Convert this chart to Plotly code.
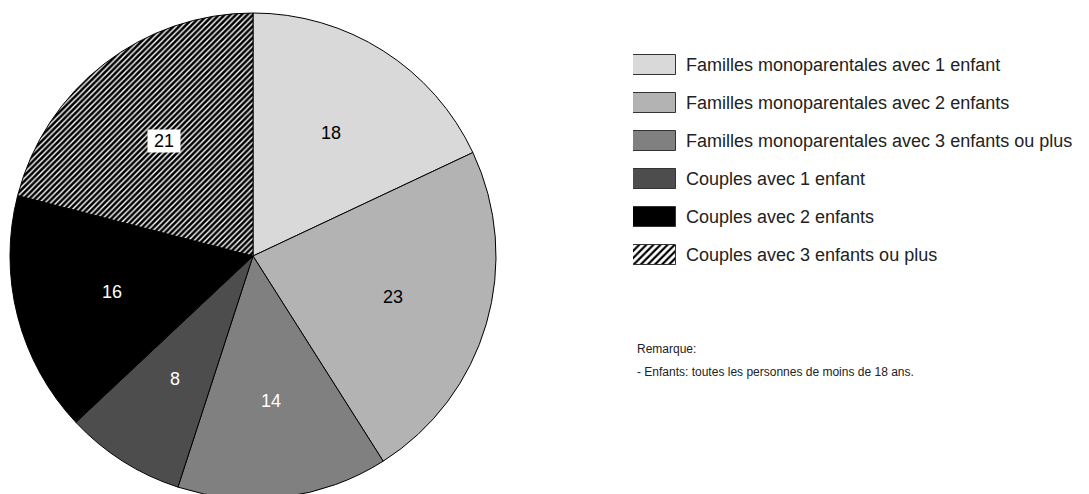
import math
import plotly.graph_objects as go

# ---- data ----
categories = [
    "Familles monoparentales avec 1 enfant",
    "Familles monoparentales avec 2 enfants",
    "Familles monoparentales avec 3 enfants ou plus",
    "Couples avec 1 enfant",
    "Couples avec 2 enfants",
    "Couples avec 3 enfants ou plus",
]
values = [18, 23, 14, 8, 16, 21]
remark_lines = ["Remarque:", "- Enfants: toutes les personnes de moins de 18 ans."]

# ---- styles ----
colors = ["#d9d9d9", "#b3b3b3", "#808080", "#4d4d4d", "#000000", "#000000"]
patterns = ["", "", "", "", "", "/"]
text_colors = ["black", "black", "white", "white", "white", "black"]
boxed = [False, False, False, False, False, True]

W, H = 1089, 494
OFF = 8  # page body margin
FONT = "Liberation Sans, Arial, Helvetica, sans-serif"


def px_x(x):
    return (x - OFF) / W


def px_y(y):
    return 1 - (y - OFF) / H


# pie geometry (screen pixels)
cx_s, cy_s, r_s = 253, 256, 243
pie_dom_x = [px_x(cx_s - r_s), px_x(cx_s + r_s)]
pie_dom_y = [max(0, px_y(cy_s + r_s)), px_y(cy_s - r_s)]

fig = go.Figure()
fig.add_trace(go.Pie(
    labels=categories, values=values, sort=False, direction="clockwise",
    rotation=0,
    domain=dict(x=pie_dom_x, y=pie_dom_y),
    marker=dict(colors=colors, line=dict(color="black", width=1),
                pattern=dict(shape=patterns, fgcolor="white", bgcolor=colors,
                             fillmode="replace", size=4, solidity=0.36)),
    textinfo="none",
    hoverinfo="skip", showlegend=False,
))

# Legend drawn as swatches (bar chart on hidden axis)
row0, row_gap = 65, 38
n = len(categories)
top_s = row0 - row_gap / 2
bot_s = row0 + row_gap * (n - 1) + row_gap / 2
fig.add_trace(go.Bar(
    y=categories, x=[1] * n, orientation="h", width=0.52,
    marker=dict(color=colors, line=dict(color="#333", width=1),
                pattern=dict(shape=patterns, fgcolor="white", bgcolor=colors,
                             fillmode="replace", size=5, solidity=0.45)),
    xaxis="x", yaxis="y", hoverinfo="skip", showlegend=False,
))

# slice value labels at mid-angle, placed from data
total = sum(values)
cum = 0
annotations = []
for v, b, tc in zip(values, boxed, text_colors):
    theta = 2 * math.pi * (cum + v / 2) / total
    rr = 0.6 * r_s
    sx = cx_s + rr * math.sin(theta)
    sy = cy_s - rr * math.cos(theta)
    annotations.append(dict(x=px_x(sx), y=px_y(sy), xref="paper", yref="paper",
                            xanchor="center", yanchor="middle",
                            text=(" %d " % v) if b else str(v), showarrow=False,
                            bgcolor="white" if b else "rgba(0,0,0,0)",
                            font=dict(size=18, color=tc, family=FONT),
                            borderpad=1))
    cum += v

for i, line in enumerate(remark_lines):
    annotations.append(dict(x=px_x(635), y=px_y(349 + 23 * i), xref="paper", yref="paper",
                            xanchor="left", yanchor="middle", text=line, showarrow=False,
                            font=dict(size=12, color="#222", family=FONT)))

fig.update_layout(
    width=W, height=H, margin=dict(l=0, r=0, t=0, b=0),
    paper_bgcolor="white", plot_bgcolor="white",
    font=dict(family=FONT, color="#222"),
    xaxis=dict(domain=[px_x(633), px_x(676)], range=[0, 1], visible=False, fixedrange=True),
    yaxis=dict(domain=[px_y(bot_s), px_y(top_s)], autorange="reversed",
               side="right", showgrid=False, zeroline=False, showline=False, ticks="",
               ticklabelstandoff=9, tickfont=dict(size=18, color="#222", family=FONT),
               fixedrange=True),
    annotations=annotations,
    bargap=0,
)

fig.write_html("out.html")
